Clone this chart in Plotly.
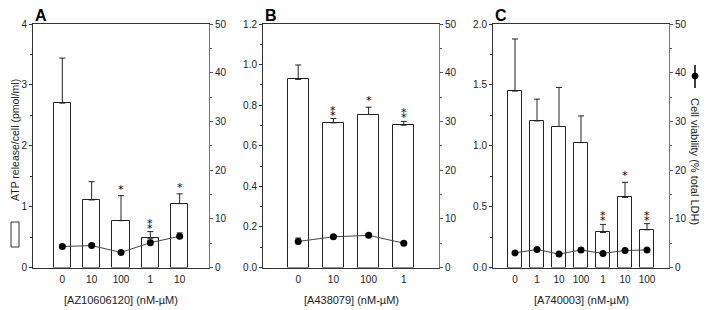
import plotly.graph_objects as go

# ---------------- data ----------------
a_labels = ["0", "10", "100", "1", "10"]
a_atp = [2.70, 1.11, 0.77, 0.48, 1.05]
a_atp_err = [0.74, 0.30, 0.41, 0.11, 0.16]
a_via = [4.3, 4.5, 3.1, 5.1, 6.4]
a_via_err = [0.3, 0.4, 0.3, 0.5, 0.7]
a_sig = ["", "", "*", "**", "*"]

b_labels = ["0", "10", "100", "1"]
b_atp = [0.927, 0.713, 0.754, 0.701]
b_atp_err = [0.071, 0.021, 0.036, 0.019]
b_via = [5.35, 6.3, 6.6, 5.0]
b_via_err = [0.7, 0.3, 0.3, 0.2]
b_sig = ["", "**", "*", "**"]

c_labels = ["0", "1", "10", "100", "1", "10", "100"]
c_atp = [1.449, 1.204, 1.158, 1.026, 0.288, 0.576, 0.31]
c_atp_err = [0.428, 0.179, 0.321, 0.219, 0.066, 0.124, 0.05]
c_via = [3.0, 3.7, 2.75, 3.6, 2.9, 3.5, 3.6]
c_via_err = [0.3, 0.3, 0.2, 0.4, 0.2, 0.2, 0.3]
c_sig = ["", "", "", "", "**", "*", "**"]

x_titles = ["[AZ10606120] (nM-\u00b5M)", "[A438079] (nM-\u00b5M)", "[A740003] (nM-\u00b5M)"]
panel_letters = ["A", "B", "C"]
left_ranges = [[0, 4], [0, 1.2], [0, 2.0]]
left_dticks = [1, 0.2, 0.5]
left_formats = ["d", ".1f", ".1f"]
right_range = [0, 50]

panels = [
    (a_labels, a_atp, a_atp_err, a_via, a_via_err, a_sig),
    (b_labels, b_atp, b_atp_err, b_via, b_via_err, b_sig),
    (c_labels, c_atp, c_atp_err, c_via, c_via_err, c_sig),
]

# ---------------- layout geometry ----------------
# the page body adds an 8px margin, so the figure is drawn 8px smaller
OFF = 8
W, H = 709 - OFF, 310 - OFF


def px(x):
    return (x - OFF) / W


def py(y):
    return 1 - (y - OFF) / H


x_px = [(33, 209), (263, 439), (493, 669)]
y_top, y_bot = 24, 267.5
ydom = [py(y_bot), py(y_top)]

FONT = "Liberation Sans, Arial, sans-serif"
TXT = "#222222"

fig = go.Figure()
annotations = []
layout = {}

for i, (labels, atp, atp_err, via, via_err, sig) in enumerate(panels):
    n = len(labels)
    xs = list(range(n))
    xa = "x" if i == 0 else f"x{i+1}"
    ya = "y" if i == 0 else f"y{i+1}"
    yr = f"y{i+4}"
    fig.add_trace(go.Bar(
        x=xs, y=atp, xaxis=xa, yaxis=ya, width=0.6,
        marker=dict(color="white", line=dict(color="#222222", width=1)),
        error_y=dict(type="data", symmetric=False, array=atp_err,
                     arrayminus=[0] * n, color="#222222", thickness=1, width=3),
        showlegend=False, hoverinfo="skip"))
    fig.add_trace(go.Scatter(
        x=xs, y=via, xaxis=xa, yaxis=yr, mode="lines+markers",
        line=dict(color="#444444", width=1),
        marker=dict(color="black", size=7),
        error_y=dict(type="data", symmetric=False, array=via_err,
                     arrayminus=[0] * n, color="#222222", thickness=1, width=3),
        showlegend=False, hoverinfo="skip"))

    dom = [px(x_px[i][0]), px(x_px[i][1])]
    xkey = "xaxis" if i == 0 else f"xaxis{i+1}"
    ykey = "yaxis" if i == 0 else f"yaxis{i+1}"
    rkey = f"yaxis{i+4}"
    layout[xkey] = dict(
        domain=dom, anchor=ya, range=[-1, n], tickmode="array", tickvals=xs,
        ticktext=labels, showline=True, linecolor="#333333", linewidth=1,
        mirror=True, ticks="", showgrid=False, zeroline=False, automargin=False,
        ticklabelstandoff=2,
        tickfont=dict(family=FONT, size=10, color=TXT),
    )
    layout[ykey] = dict(
        domain=ydom, anchor=xa, range=left_ranges[i], dtick=left_dticks[i],
        tickformat=left_formats[i], showline=True, linecolor="#333333", linewidth=1,
        ticks="outside", ticklen=3, tickcolor="#333333", showgrid=False, zeroline=False,
        automargin=False,
        minor=dict(dtick=left_dticks[i] / 2, ticks="outside", ticklen=2, tickcolor="#333333"),
        tickfont=dict(family=FONT, size=10, color=TXT),
    )
    layout[rkey] = dict(
        overlaying=ya, anchor=xa, side="right", range=right_range, dtick=10,
        showline=True, linecolor="#777777", linewidth=1, automargin=False,
        ticks="outside", ticklen=3, tickcolor="#555555", showgrid=False, zeroline=False,
        minor=dict(dtick=5, ticks="outside", ticklen=2, tickcolor="#555555"),
        tickfont=dict(family=FONT, size=10, color=TXT),
    )

    # significance asterisks (single or vertically stacked pair)
    for j, s in enumerate(sig):
        if not s:
            continue
        glyph = "*" if len(s) == 1 else "\u2051"
        annotations.append(dict(
            x=j, y=atp[j] + atp_err[j], xref=xa, yref=ya, text=glyph,
            showarrow=False, yanchor="bottom", xanchor="center", yshift=-2,
            font=dict(family="DejaVu Sans, Liberation Sans, sans-serif", size=11, color="black")))

    # x-axis title
    annotations.append(dict(
        x=(px(x_px[i][0]) + px(x_px[i][1])) / 2, y=py(300), xref="paper", yref="paper",
        text=x_titles[i], showarrow=False, xanchor="center", yanchor="middle",
        font=dict(family=FONT, size=11, color=TXT)))

    # panel letters
    annotations.append(dict(
        x=px(x_px[i][0]), y=1 + 3 / H, xref="paper", yref="paper",
        text=f"<b>{panel_letters[i]}</b>", showarrow=False, xanchor="left", yanchor="top",
        font=dict(family=FONT, size=16, color="black")))

# axis titles (left and right)
annotations.append(dict(
    x=px(15), y=py(140), xref="paper", yref="paper", text="ATP release/cell (pmol/ml)",
    textangle=-90, showarrow=False, xanchor="center", yanchor="middle",
    font=dict(family=FONT, size=10.5, color=TXT)))
annotations.append(dict(
    x=px(695), y=py(161), xref="paper", yref="paper", text="Cell viability (% total LDH)",
    textangle=90, showarrow=False, xanchor="center", yanchor="middle",
    font=dict(family=FONT, size=11, color=TXT)))

shapes = [
    # open box legend symbol for ATP bars
    dict(type="rect", xref="paper", yref="paper", x0=px(11), x1=px(19),
         y0=py(247), y1=py(222), line=dict(color="#333333", width=1),
         fillcolor="white"),
    # line + dot legend symbol for viability
    dict(type="line", xref="paper", yref="paper", x0=px(695), x1=px(695),
         y0=py(88), y1=py(65), line=dict(color="black", width=1.5)),
    dict(type="circle", xref="paper", yref="paper", x0=px(692), x1=px(698),
         y0=py(79), y1=py(73), line=dict(color="black", width=1),
         fillcolor="black"),
]

fig.update_layout(
    width=W, height=H, margin=dict(l=0, r=0, t=0, b=0),
    paper_bgcolor="white", plot_bgcolor="white",
    annotations=annotations, shapes=shapes, showlegend=False, bargap=0,
    **layout)

fig.write_html("out.html")
